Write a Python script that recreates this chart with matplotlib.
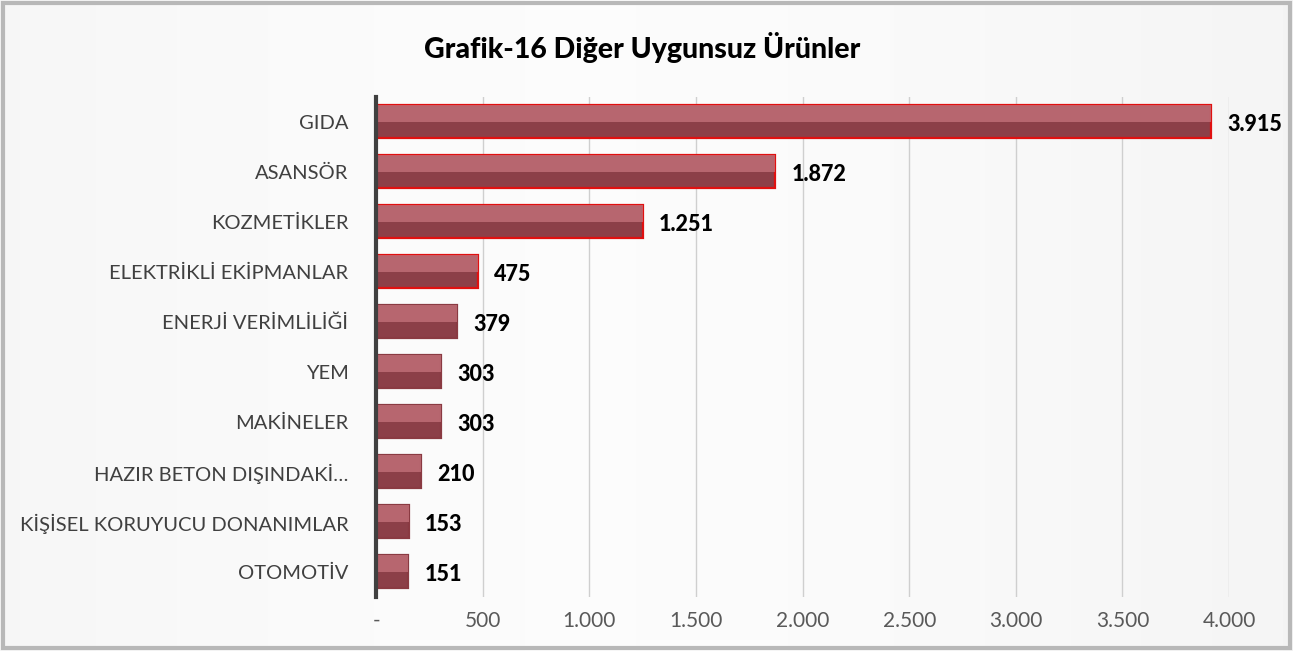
import numpy as np
import matplotlib
matplotlib.use("Agg")
import matplotlib.pyplot as plt

categories = ["GIDA", "ASANSÖR", "KOZMETİKLER", "ELEKTRİKLİ EKİPMANLAR", "ENERJİ VERİMLİLİĞİ",
              "YEM", "MAKİNELER", "HAZIR BETON DIŞINDAKİ…", "KİŞİSEL KORUYUCU DONANIMLAR", "OTOMOTİV"]
values = [3915, 1872, 1251, 475, 379, 303, 303, 210, 153, 151]
value_labels = ["3.915", "1.872", "1.251", "475", "379", "303", "303", "210", "153", "151"]
xticks = [0, 500, 1000, 1500, 2000, 2500, 3000, 3500, 4000]
xtick_labels = ["-", "500", "1.000", "1.500", "2.000", "2.500", "3.000", "3.500", "4.000"]

plt.rcParams["font.family"] = ["Lato", "DejaVu Sans"]

fig = plt.figure(figsize=(12.93, 6.51), dpi=100)

# background panel with soft gradient and bevelled frame
bg = fig.add_axes([0, 0, 1, 1])
bg.set_axis_off()
grad = np.linspace(0, 1, 256)
img = 0.985 - 0.07 * np.abs(grad - 0.45)[None, :] ** 1.5
img = np.repeat(img, 10, axis=0)
bg.imshow(img, cmap="gray", vmin=0, vmax=1, aspect="auto", extent=[0, 1, 0, 1])
bg.add_patch(plt.Rectangle((0.002, 0.004), 0.996, 0.992, fill=False, ec="#b8b8b8", lw=3))
bg.set_xlim(0, 1)
bg.set_ylim(0, 1)

ax = fig.add_axes([0.291, 0.083, 0.6595, 0.768])
ax.patch.set_alpha(0)
y = np.arange(len(categories))
h = 0.66
big = [v > 400 for v in values]
edge = ["#e01010" if b else "#8a3a42" for b in big]
ax.barh(y, values, height=h, color="#8c3f48", edgecolor=edge, linewidth=1.6, zorder=3)
ax.barh(y - h / 4, values, height=h / 2, color="#c27079", linewidth=0, zorder=3.5, alpha=0.8)
for yi, v, lab in zip(y, values, value_labels):
    ax.text(v + 75, yi + 0.05, lab, ha="left", va="center", fontsize=15.5, fontweight="black",
            color="black", zorder=5)

ax.set_xlim(0, 4000)
ax.set_ylim(len(categories) - 0.5, -0.5)
ax.set_yticks(y)
ax.set_yticklabels(categories, fontsize=14.5, color="#404040")
ax.set_xticks(xticks)
ax.set_xticklabels(xtick_labels, fontsize=15, color="#595959")
ax.tick_params(axis="x", length=0, pad=10)
ax.tick_params(axis="y", length=0, pad=20)
ax.grid(axis="x", color="#cfcfcf", lw=1, zorder=0)
for s in ["top", "right", "bottom"]:
    ax.spines[s].set_visible(False)
ax.spines["left"].set_color("#404040")
ax.spines["left"].set_linewidth(3)
ax.spines["left"].set_zorder(6)

fig.text(0.497, 0.927, "Grafik-16 Diğer Uygunsuz Ürünler", ha="center", va="center",
         fontsize=20.5, fontweight="black", color="black")

fig.savefig("out.png", dpi=100)
